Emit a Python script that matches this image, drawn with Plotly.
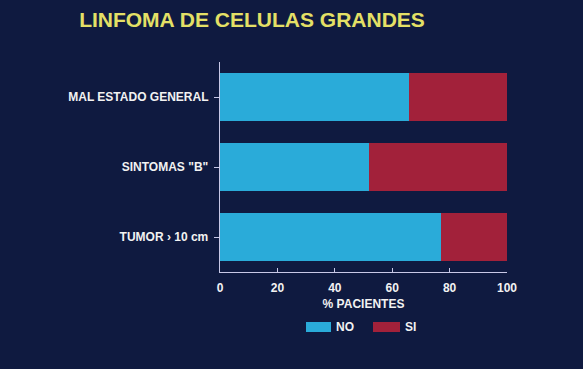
import plotly.graph_objects as go

categories = ["MAL ESTADO GENERAL", "SINTOMAS \"B\"", "TUMOR › 10 cm"]
no_values = [66, 52, 77]
si_values = [34, 48, 23]
x_ticks = [0, 20, 40, 60, 80, 100]

BG = "#0f1a40"
CYAN = "#2aabd9"
RED = "#a2213a"
AXIS = "#c8c8e6"
TXT = "#f2f2f2"
FONT = "Liberation Sans, Arial, sans-serif"

fig = go.Figure()
fig.add_trace(go.Bar(y=categories, x=no_values, orientation="h", name="NO",
                     marker=dict(color=CYAN, line=dict(width=0))))
fig.add_trace(go.Bar(y=categories, x=si_values, orientation="h", name="SI",
                     marker=dict(color=RED, line=dict(width=0))))

fig.update_layout(
    width=583, height=369,
    barmode="stack", bargap=0.31,
    paper_bgcolor=BG, plot_bgcolor=BG,
    margin=dict(l=220, r=76, t=62, b=97),
    showlegend=False,
    font=dict(family=FONT, color=TXT, size=11, weight="bold"),
    title=dict(text="LINFOMA DE CELULAS GRANDES", x=252 / 583, xanchor="center",
               y=1 - 20 / 369, yanchor="middle",
               font=dict(family=FONT, size=21, color="#e4e066", weight="bold")),
)
fig.update_xaxes(range=[0, 100], tickvals=x_ticks, showgrid=False, zeroline=False,
                 showline=True, linecolor=AXIS, linewidth=1,
                 ticks="inside", ticklen=4, tickcolor=AXIS,
                 ticklabelstandoff=5,
                 tickfont=dict(family=FONT, size=12, color=TXT, weight="bold"),
                 title=dict(text="% PACIENTES", standoff=5,
                            font=dict(family=FONT, size=12, color=TXT, weight="bold")))
fig.update_yaxes(autorange="reversed", range=[2.5, -0.5], showgrid=False, zeroline=False,
                 showline=True, linecolor=AXIS, linewidth=1,
                 ticks="outside", ticklen=5, tickcolor=AXIS,
                 tickfont=dict(family=FONT, size=12, color=TXT, weight="bold"),
                 ticksuffix=" ")

# legend drawn manually with wide swatches
legend_items = [("NO", CYAN, 306, 331), ("SI", RED, 373, 400)]
for label, color, x0, x1 in legend_items:
    fig.add_shape(type="rect", xref="paper", yref="paper",
                  x0=(x0 - 220) / 287, x1=(x1 - 220) / 287,
                  y0=(272 - 332) / 210, y1=(272 - 322) / 210,
                  fillcolor=color, line=dict(width=0))
    fig.add_annotation(xref="paper", yref="paper", x=(x1 + 3 - 220) / 287,
                       y=(272 - 327) / 210, xanchor="left", yanchor="middle",
                       text=label, showarrow=False,
                       font=dict(family=FONT, size=12, color=TXT, weight="bold"))

fig.write_html("out.html", config={"displayModeBar": False},
               post_script="document.body.style.margin='0';document.body.style.background='#0f1a40';")
